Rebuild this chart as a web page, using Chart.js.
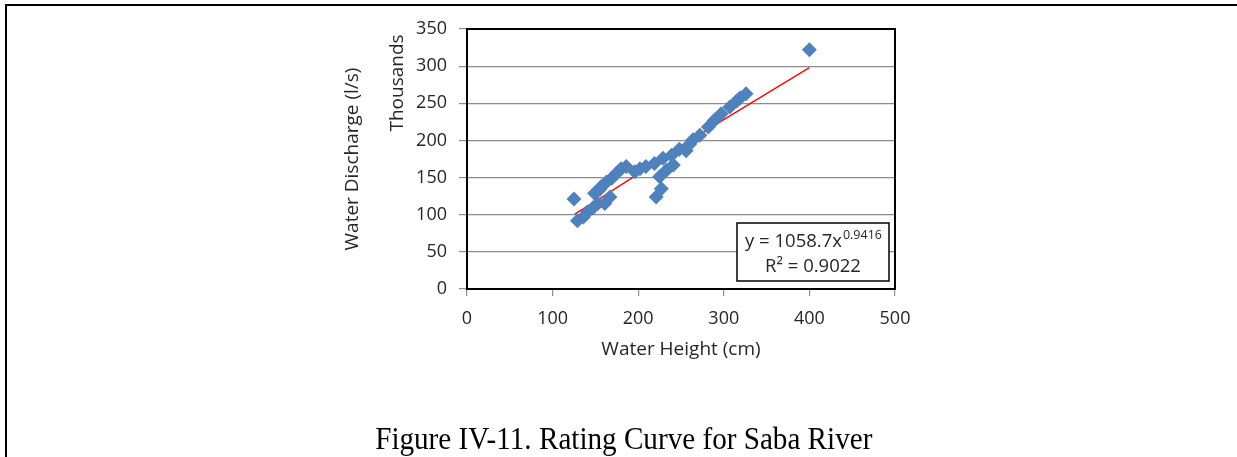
<!DOCTYPE html>
<html lang="en">
<head>
<meta charset="UTF-8">
<title>Rating Curve for Saba River</title>
<script src="https://cdn.jsdelivr.net/npm/chart.js"></script>
<style>
  body { margin: 0; background: #fff; }
  #wrap { position: relative; width: 1237px; height: 457px; overflow: hidden; }
  #chart { position: absolute; left: 0; top: 0; }
  .frame { position: absolute; background: #000; }
  #caption {
    position: absolute; left: 5px; width: 1237px; top: 423px;
    text-align: center; line-height: 31px;
    font-family: "Liberation Serif", "Times New Roman", serif; font-size: 31px; color: #000;
    transform: scaleX(0.94); transform-origin: 623px 0;
  }
</style>
</head>
<body>
<div id="wrap">
  <canvas id="chart" width="1237" height="457"></canvas>
  <div class="frame" style="left:5px;top:4px;width:1232px;height:2px"></div>
  <div class="frame" style="left:5px;top:4px;width:2px;height:453px"></div>
  <div id="caption">Figure IV-11. Rating Curve for Saba River</div>
</div>

<script>
// measured points: water height (cm) and discharge (thousand l/s)
const heights = [125, 129, 136, 141, 147, 149, 153, 155, 157, 161, 163, 167, 169, 175, 180, 186,
                 196, 202, 209, 219, 221, 225, 227, 229, 233, 239, 241, 248, 256, 260, 264, 272,
                 282, 289, 297, 307, 315, 319, 326, 400];
const discharge = [121, 92, 97, 104, 109, 129, 115, 134, 138, 115, 144, 124, 149, 156, 162, 165,
                   158, 162, 165, 169, 124, 151, 135, 176, 160, 180, 167, 188, 186, 195, 201, 207,
                   218, 227, 236, 245, 253, 257, 263, 322];

// power trend line
const trendX = [126, 150, 200, 250, 300, 350, 400];
const trendY = [101, 118, 155, 192, 228, 263, 298];

const xTicks = [0, 100, 200, 300, 400, 500];
const yTicks = [0, 50, 100, 150, 200, 250, 300, 350];

const equation = 'y = 1058.7x';
const exponent = '0.9416';
const rSquared = 'R² = 0.9022';

Chart.defaults.font.family = "'Open Sans', sans-serif";
Chart.defaults.font.size = 18;
Chart.defaults.color = '#262626';

// plot box, trend label box and the "Thousands" unit label
const extras = {
  id: 'extras',
  afterDatasetsDraw(chart) {
    const { ctx, chartArea: a } = chart;
    ctx.save();
    ctx.strokeStyle = '#000';
    ctx.lineWidth = 2;
    ctx.strokeRect(a.left, a.top, a.right - a.left, a.bottom - a.top);

    const bx = a.right - 158, by = a.top + 194, bw = 152, bh = 58;
    ctx.fillStyle = '#fff';
    ctx.fillRect(bx, by, bw, bh);
    ctx.lineWidth = 1.5;
    ctx.strokeRect(bx, by, bw, bh);

    const cx = bx + bw / 2;
    ctx.fillStyle = '#262626';
    ctx.textBaseline = 'alphabetic';
    ctx.font = "18.5px 'Open Sans', sans-serif";
    const w1 = ctx.measureText(equation).width;
    ctx.font = "12.5px 'Open Sans', sans-serif";
    const w2 = ctx.measureText(exponent).width;
    const sx = cx - (w1 + w2) / 2;
    ctx.textAlign = 'left';
    ctx.font = "18.5px 'Open Sans', sans-serif";
    ctx.fillText(equation, sx, by + 24);
    ctx.font = "12.5px 'Open Sans', sans-serif";
    ctx.fillText(exponent, sx + w1 + 1, by + 16);
    ctx.font = "18.5px 'Open Sans', sans-serif";
    ctx.textAlign = 'center';
    ctx.fillText(rSquared, cx, by + 49);

    ctx.font = "19px 'Open Sans', sans-serif";
    ctx.translate(a.left - 69, a.top + 54);
    ctx.rotate(-Math.PI / 2);
    ctx.textBaseline = 'middle';
    ctx.fillText('Thousands', 0, 0);
    ctx.restore();
  }
};

const ctx = document.getElementById('chart').getContext('2d');
new Chart(ctx, {
  type: 'scatter',
  data: {
    datasets: [{
      label: 'Observed',
      data: heights.map((h, i) => ({ x: h, y: discharge[i] })),
      pointStyle: 'rectRot',
      pointRadius: 7.5,
      pointHoverRadius: 7.5,
      pointBorderWidth: 0,
      backgroundColor: '#4F81BD',
      borderColor: '#4F81BD',
      showLine: false
    }, {
      label: 'Power trend',
      data: trendX.map((h, i) => ({ x: h, y: trendY[i] })),
      showLine: true,
      borderColor: '#FF0000',
      borderWidth: 1.3,
      pointRadius: 0,
      tension: 0.4,
      fill: false
    }]
  },
  options: {
    responsive: false,
    animation: false,
    layout: { padding: { left: 337, right: 342, top: 29, bottom: 88 } },
    plugins: { legend: { display: false }, tooltip: { enabled: false } },
    scales: {
      x: {
        type: 'linear',
        min: 0, max: 500,
        afterFit: s => { s.height = 80; },
        afterBuildTicks: s => { s.ticks = xTicks.map(v => ({ value: v })); },
        ticks: { padding: 12 },
        grid: { drawOnChartArea: false, drawTicks: true, tickLength: 7, tickColor: '#8c8c8c', lineWidth: 1.2 },
        border: { display: false },
        title: { display: true, text: 'Water Height (cm)', font: { size: 19 }, padding: { top: 0, bottom: 8 } }
      },
      y: {
        type: 'linear',
        min: 0, max: 350,
        afterFit: s => { s.width = 130; },
        afterBuildTicks: s => { s.ticks = yTicks.map(v => ({ value: v })); },
        ticks: { padding: 12 },
        grid: { color: '#8c8c8c', lineWidth: 1.2, tickLength: 8, tickColor: '#8c8c8c' },
        border: { display: false },
        title: { display: true, text: 'Water Discharge (l/s)', font: { size: 19 }, padding: { top: 4, bottom: 0 } }
      }
    }
  },
  plugins: [extras]
});
</script>
</body>
</html>
